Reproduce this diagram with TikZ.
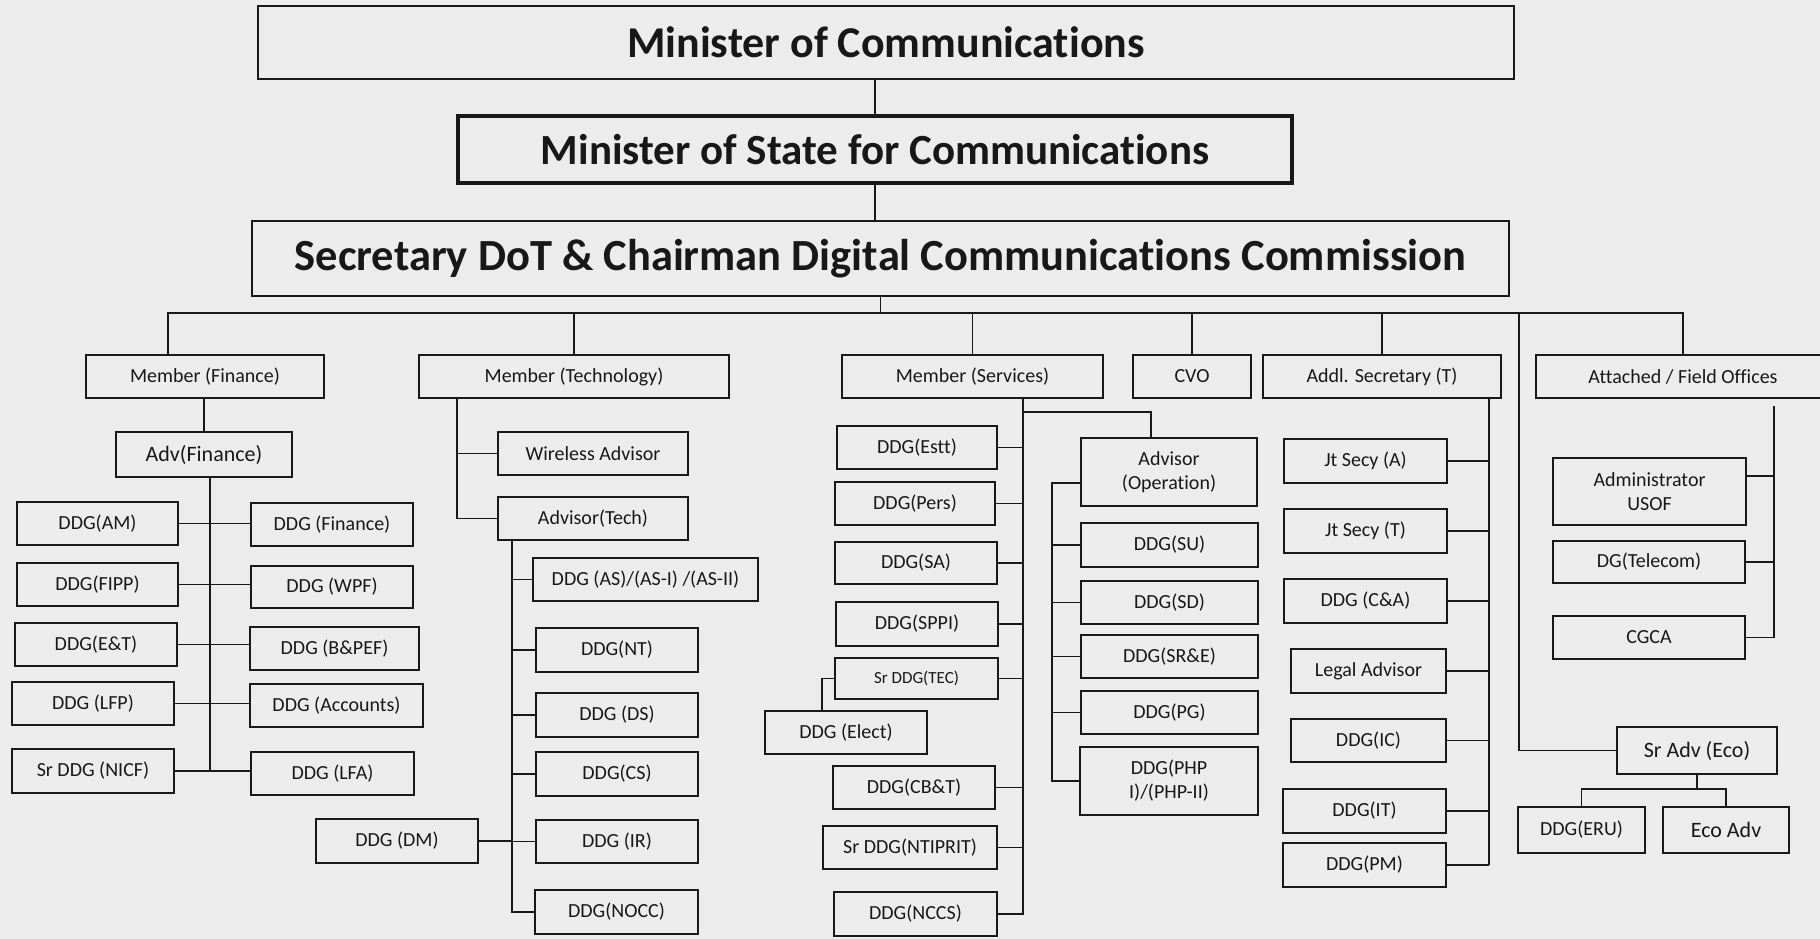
\documentclass[tikz,border=0pt]{standalone}
\usepackage{fontspec}
\setmainfont[Ligatures=NoCommon]{Carlito}
\usetikzlibrary{calc}

\definecolor{paper}{RGB}{236,236,236}
\definecolor{ink}{RGB}{24,24,24}

\tikzset{every picture/.style={line width=1.9pt}}
\tikzset{
  unit/.style={draw, inner sep=0pt, align=center, font=\fontsize{20}{24}\selectfont},
  box/.style 2 args={unit, minimum width=#1, minimum height=#2},
  head/.style={draw, inner sep=0pt, font=\fontsize{44}{52}\selectfont\bfseries},
  big/.style={font=\fontsize{22}{26}\selectfont},
  small/.style={font=\fontsize{17}{20}\selectfont},
}

\begin{document}
\begin{tikzpicture}[x=1pt,y=1pt,yscale=-1,xscale=1,color=ink]
\path[use as bounding box, fill=paper] (0,0) rectangle (1820,939);

% top of the chart
\node[head, minimum width=1256, minimum height=73] (moc) at (886,42.5) {Minister of Communications};
\node[head, line width=4.5pt, minimum width=834, minimum height=67, font=\fontsize{43}{50}\selectfont\bfseries] (mos) at (875,149.5) {Minister of State for Communications};
\node[head, minimum width=1257, minimum height=75, font=\fontsize{44.5}{52}\selectfont\bfseries] (sec) at (880.5,258.5) {Secretary DoT \& Chairman Digital Communications Commission};

% member row
\node[box={238}{43}] (mfin) at (205,376.5) {Member (Finance)};
\node[box={310}{43}] (mtech) at (574,376.5) {Member (Technology)};
\node[box={261}{43}] (msvc) at (972.5,376.5) {Member (Services)};
\node[box={118}{43}] (cvo) at (1192,376.5) {CVO};
\node[box={238}{43}] (maddl) at (1382,376.5) {Addl. Secretary (T)};
\node[box={294}{43}] (mfield) at (1683,376.5) {Attached / Field Offices};

\coordinate (busL) at (168,313);
\coordinate (busR) at (1683,313);
\draw (mos.north) -- (mos.north |- moc.south);
\draw (mos.south) -- (mos.south |- sec.north);
\draw (sec.south) -- (sec.south |- busL);
\draw (busL |- mfin.north) -- (busL) -- (busR) -- (mfield.north);
\foreach \n in {mtech,msvc,cvo,maddl}
  \draw (\n.north) -- (\n.north |- busL);

% finance
\node[box={176}{45}, big] (advfin) at (204,454.5) {Adv(Finance)};
\node[box={161}{43}] (ddgam) at (97.5,523.5) {DDG(AM)};
\node[box={161}{43}] (ddgfipp) at (97.5,584.5) {DDG(FIPP)};
\node[box={162}{43}] (ddget) at (96,644.5) {DDG(E\&T)};
\node[box={162}{43}] (ddglfp) at (93,703.5) {DDG (LFP)};
\node[box={162}{44}] (srnicf) at (93,771) {Sr DDG (NICF)};
\node[box={162}{43}] (ddgfin) at (332,524.5) {DDG (Finance)};
\node[box={162}{42}] (ddgwpf) at (332,587) {DDG (WPF)};
\node[box={169}{43}] (ddgbpef) at (334.5,648.5) {DDG (B\&PEF)};
\node[box={173}{43}] (ddgacc) at (336.5,705.5) {DDG (Accounts)};
\node[box={163}{43}] (ddglfa) at (332.5,773.5) {DDG (LFA)};

\coordinate (finspine) at (210,771);
\draw (advfin.north |- mfin.south) -- (advfin.north);
\draw (finspine |- advfin.south) -- (finspine);
\foreach \l/\r in {ddgam/ddgfin,ddgfipp/ddgwpf,ddget/ddgbpef,ddglfp/ddgacc,srnicf/ddglfa}
  \draw (\l.east) -- (\l.east -| \r.west);

% technology
\node[box={190}{43}] (wadv) at (593,453.5) {Wireless Advisor};
\node[box={190}{43}] (advtech) at (593,518.5) {Advisor(Tech)};
\node[box={225}{43}] (ddgas) at (645.5,579.5) {DDG (AS)/(AS-I) /(AS-II)};
\node[box={162}{44}] (ddgnt) at (617,650) {DDG(NT)};
\node[box={162}{44}] (ddgds) at (617,715) {DDG (DS)};
\node[box={162}{44}] (ddgcs) at (617,774) {DDG(CS)};
\node[box={162}{43}] (ddgir) at (617,841.5) {DDG (IR)};
\node[box={163}{44}] (ddgnocc) at (616.5,912) {DDG(NOCC)};
\node[box={162}{44}] (ddgdm) at (397,841) {DDG (DM)};

\coordinate (techspine) at (457,518.5);
\coordinate (techspine2) at (512,912);
\draw (techspine |- mtech.south) -- (techspine) -- (advtech.west);
\draw (techspine |- wadv.west) -- (wadv.west);
\draw (techspine2 |- advtech.south) -- (techspine2) -- (ddgnocc.west);
\foreach \n in {ddgas,ddgnt,ddgds,ddgcs,ddgir}
  \draw (techspine2 |- \n.west) -- (\n.west);
\draw (ddgdm.east) -- (techspine2 |- ddgdm.east);

% services
\node[box={160}{43}] (ddgestt) at (917,447.5) {DDG(Estt)};
\node[box={160}{43}] (ddgpers) at (915,503.5) {DDG(Pers)};
\node[box={162}{42}] (ddgsa) at (916,563) {DDG(SA)};
\node[box={162}{44}] (ddgsppi) at (917,624) {DDG(SPPI)};
\node[box={163}{41}, small] (srtec) at (916.5,678.5) {Sr DDG(TEC)};
\node[box={162}{43}] (ddgelect) at (846,732.5) {DDG (Elect)};
\node[box={162}{43}] (ddgcbt) at (914,787.5) {DDG(CB\&T)};
\node[box={174}{43}] (srntiprit) at (910,847.5) {Sr DDG(NTIPRIT)};
\node[box={163}{44}] (ddgnccs) at (915.5,914) {DDG(NCCS)};

\node[box={176}{68}] (advop) at (1169,472) {Advisor\\(Operation)};
\node[box={177}{44}] (ddgsu) at (1169.5,545) {DDG(SU)};
\node[box={177}{43}] (ddgsd) at (1169.5,602.5) {DDG(SD)};
\node[box={177}{43}] (ddgsre) at (1169.5,656.5) {DDG(SR\&E)};
\node[box={177}{43}] (ddgpg) at (1169.5,712.5) {DDG(PG)};
\node[box={178}{68}] (ddgphp) at (1169,781) {DDG(PHP\\I)/(PHP-II)};

\coordinate (svcspine) at (1023,914);
\coordinate (opknee) at (1151,412);
\coordinate (opspine) at (1052,781);
\coordinate (electknee) at (822,678.5);
\draw (svcspine |- msvc.south) -- (svcspine) -- (ddgnccs.east);
\foreach \n in {ddgestt,ddgpers,ddgsa,ddgsppi,srtec,ddgcbt,srntiprit}
  \draw (\n.east) -- (svcspine |- \n.east);
\draw (srtec.west) -- (electknee) -- (electknee |- ddgelect.north);
\draw (svcspine |- opknee) -- (opknee) -- (opknee |- advop.north);
\draw ($(advop.north west)!0.66!(advop.south west)$) coordinate (opjoin)
  -- (opjoin -| opspine) -- (opspine) -- (ddgphp.west);
\foreach \n in {ddgsu,ddgsd,ddgsre,ddgpg}
  \draw (opspine |- \n.west) -- (\n.west);

% additional secretary
\node[box={163}{44}] (jtsa) at (1365.5,461) {Jt Secy (A)};
\node[box={163}{44}] (jtst) at (1365.5,531) {Jt Secy (T)};
\node[box={163}{44}] (ddgca) at (1365.5,601) {DDG (C\&A)};
\node[box={155}{44}] (legal) at (1368.5,671) {Legal Advisor};
\node[box={155}{43}] (ddgic) at (1368.5,740.5) {DDG(IC)};
\node[box={163}{44}] (ddgit) at (1364.5,811) {DDG(IT)};
\node[box={163}{44}] (ddgpm) at (1364.5,865) {DDG(PM)};

\coordinate (addlspine) at (1489,865);
\draw (addlspine |- maddl.south) -- (addlspine);
\foreach \n in {jtsa,jtst,ddgca,legal,ddgic,ddgit,ddgpm}
  \draw (\n.east) -- (addlspine |- \n.east);

% attached / field offices
\node[box={193}{67}] (adusof) at (1649.5,491.5) {Administrator\\USOF};
\node[box={192}{42}] (dgtel) at (1649,562) {DG(Telecom)};
\node[box={192}{43}] (cgca) at (1649,637.5) {CGCA};
\node[box={160}{47}, big] (sradv) at (1697,750.5) {Sr Adv (Eco)};
\node[box={127}{46}] (ddgeru) at (1581.5,830) {DDG(ERU)};
\node[box={126}{46}, big] (ecoadv) at (1726,830) {Eco Adv};

\coordinate (fieldspine) at (1774,406);
\coordinate (ecoknee) at (1519,750.5);
\coordinate (ecofork) at (1697,789);
\draw (fieldspine) -- (fieldspine |- cgca.east) -- (cgca.east);
\draw ($(adusof.north east)!0.28!(adusof.south east)$) coordinate (usofjoin)
  -- (usofjoin -| fieldspine);
\draw (dgtel.east) -- (fieldspine |- dgtel.east);
\draw (ecoknee |- busL) -- (ecoknee) -- (sradv.west);
\draw (sradv.south) -- (ecofork);
\draw (ddgeru.north) -- (ddgeru.north |- ecofork) -- (ecoadv.north |- ecofork) -- (ecoadv.north);
\end{tikzpicture}
\end{document}
